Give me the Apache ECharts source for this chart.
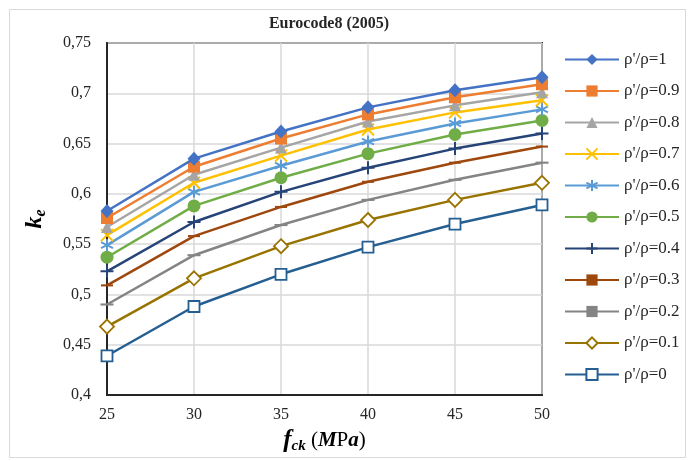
<!DOCTYPE html>
<html>
<head>
<meta charset="utf-8">
<script src="https://cdn.jsdelivr.net/npm/echarts@6/dist/echarts.min.js"></script>
<style>html,body{margin:0;padding:0;background:#fff}#c{width:690px;height:461px}</style>
</head>
<body>
<div id="c"></div>
<script>
const fck = [25, 30, 35, 40, 45, 50];
const seriesNames = ["ρ'/ρ=1", "ρ'/ρ=0.9", "ρ'/ρ=0.8", "ρ'/ρ=0.7", "ρ'/ρ=0.6", "ρ'/ρ=0.5", "ρ'/ρ=0.4", "ρ'/ρ=0.3", "ρ'/ρ=0.2", "ρ'/ρ=0.1", "ρ'/ρ=0"];
const r10 = [0.583, 0.635, 0.662, 0.686, 0.703, 0.716];
const r09 = [0.576, 0.627, 0.655, 0.679, 0.696, 0.709];
const r08 = [0.567, 0.619, 0.646, 0.672, 0.688, 0.701];
const r07 = [0.559, 0.611, 0.638, 0.664, 0.681, 0.693];
const r06 = [0.549, 0.602, 0.628, 0.652, 0.670, 0.684];
const r05 = [0.537, 0.588, 0.616, 0.640, 0.659, 0.673];
const r04 = [0.523, 0.572, 0.602, 0.626, 0.645, 0.660];
const r03 = [0.509, 0.558, 0.587, 0.612, 0.631, 0.647];
const r02 = [0.490, 0.539, 0.569, 0.594, 0.614, 0.631];
const r01 = [0.468, 0.516, 0.548, 0.574, 0.594, 0.611];
const r00 = [0.439, 0.488, 0.520, 0.547, 0.570, 0.589];
const yTicks = [0.4, 0.45, 0.5, 0.55, 0.6, 0.65, 0.7, 0.75];
const yTickLabels = ["0,4", "0,45", "0,5", "0,55", "0,6", "0,65", "0,7", "0,75"];

const allValues = [r10, r09, r08, r07, r06, r05, r04, r03, r02, r01, r00];
const dashPath = 'path://M0,0L12,0L12,5L0,5Z';
const styles = [
  {color: '#4472C4', symbol: 'diamond', size: [13, 14]},
  {color: '#ED7D31', symbol: 'rect', size: 12},
  {color: '#A5A5A5', symbol: 'triangle', size: 12},
  {color: '#FFC000', symbol: 'path://M0,0L10,10M10,0L0,10', size: 12, stroke: true},
  {color: '#5B9BD5', symbol: 'path://M5,0L5,10M0.5,2.5L9.5,7.5M0.5,7.5L9.5,2.5', size: 12, stroke: true},
  {color: '#70AD47', symbol: 'circle', size: 13},
  {color: '#264478', symbol: 'path://M5,0L5,10M0,5L10,5', size: 13, stroke: true},
  {color: '#9E480E', symbol: dashPath, size: [12, 5], keep: true},
  {color: '#848484', symbol: dashPath, size: [13, 5], keep: true},
  {color: '#997300', symbol: 'diamond', size: [14, 14], hollow: true},
  {color: '#255E91', symbol: 'rect', size: 11, hollow: true}
];

const series = allValues.map((vals, i) => {
  const s = styles[i];
  let itemStyle;
  if (s.stroke) itemStyle = {color: s.color, borderColor: s.color, borderWidth: 2};
  else if (s.hollow) itemStyle = {color: '#fff', borderColor: s.color, borderWidth: 1.8};
  else itemStyle = {color: s.color};
  return {
    name: seriesNames[i],
    type: 'line',
    data: fck.map((x, j) => [x, vals[j]]),
    symbol: s.symbol,
    symbolSize: s.size,
    symbolKeepAspect: !!s.keep,
    showAllSymbol: true,
    lineStyle: {color: s.color, width: 2.5},
    itemStyle: itemStyle,
    z: 20 - i
  };
});

const chart = echarts.init(document.getElementById('c'), null, {renderer: 'canvas'});
chart.setOption({
  animation: false,
  backgroundColor: '#fff',
  graphic: [{
    type: 'rect', left: 7, top: 7, shape: {width: 676, height: 448},
    style: {fill: 'none', stroke: '#d9d9d9', lineWidth: 1}, z: -10
  }],
  title: {
    text: 'Eurocode8 (2005)',
    left: 324, top: 11, textAlign: 'center',
    textStyle: {fontFamily: 'Liberation Serif', fontWeight: 'bold', fontSize: 16, color: '#262626'}
  },
  grid: {left: 107, right: 148, top: 43, bottom: 66, show: true, borderColor: '#262626', borderWidth: 2, backgroundColor: 'transparent'},
  legend: {
    orient: 'vertical', left: 564, top: 51, padding: 0,
    itemWidth: 54, itemHeight: 14, itemGap: 14.5,
    data: seriesNames,
    textStyle: {fontFamily: 'Liberation Serif', fontSize: 17, color: '#262626', lineHeight: 16}
  },
  xAxis: {
    type: 'value', min: 25, max: 50, interval: 5,
    axisLine: {show: true, lineStyle: {color: '#262626', width: 2}},
    axisTick: {show: false},
    splitLine: {show: true, lineStyle: {color: '#d9d9d9', width: 1.5}},
    axisLabel: {fontFamily: 'Liberation Serif', fontSize: 16, color: '#262626', margin: 12},
    name: '{f|f}{s|ck}{n| (}{m|M}{p|P}{a|a}{n|)}',
    nameLocation: 'middle', nameGap: 31,
    nameTextStyle: {
      rich: {
        f: {fontFamily: 'Liberation Serif', fontStyle: 'italic', fontWeight: 'bold', fontSize: 25, color: '#000'},
        s: {fontFamily: 'Liberation Serif', fontStyle: 'italic', fontWeight: 'bold', fontSize: 15, color: '#000', padding: [12, 0, 0, 0]},
        n: {fontFamily: 'Liberation Serif', fontSize: 21, color: '#000'},
        m: {fontFamily: 'Liberation Serif', fontStyle: 'italic', fontWeight: 'bold', fontSize: 21, color: '#000'},
        p: {fontFamily: 'Liberation Serif', fontSize: 21, color: '#000'},
        a: {fontFamily: 'Liberation Serif', fontStyle: 'italic', fontWeight: 'bold', fontSize: 21, color: '#000'}
      }
    }
  },
  yAxis: {
    type: 'value', min: 0.4, max: 0.75, interval: 0.05,
    axisLine: {show: true, lineStyle: {color: '#262626', width: 2}},
    axisTick: {show: false},
    splitLine: {show: true, lineStyle: {color: '#d9d9d9', width: 1.5}},
    axisLabel: {
      fontFamily: 'Liberation Serif', fontSize: 16, color: '#262626', margin: 16,
      formatter: v => {
        const k = yTicks.findIndex(t => Math.abs(t - v) < 1e-6);
        return k >= 0 ? yTickLabels[k] : '';
      }
    },
    name: '{k|k}{e|e}',
    nameLocation: 'middle', nameGap: 58, nameRotate: 90,
    nameTextStyle: {
      rich: {
        k: {fontFamily: 'Liberation Serif', fontStyle: 'italic', fontWeight: 'bold', fontSize: 24, color: '#000'},
        e: {fontFamily: 'Liberation Serif', fontStyle: 'italic', fontWeight: 'bold', fontSize: 16, color: '#000', padding: [12, 0, 0, 0]}
      }
    }
  },
  series: series
});
</script>
</body>
</html>
